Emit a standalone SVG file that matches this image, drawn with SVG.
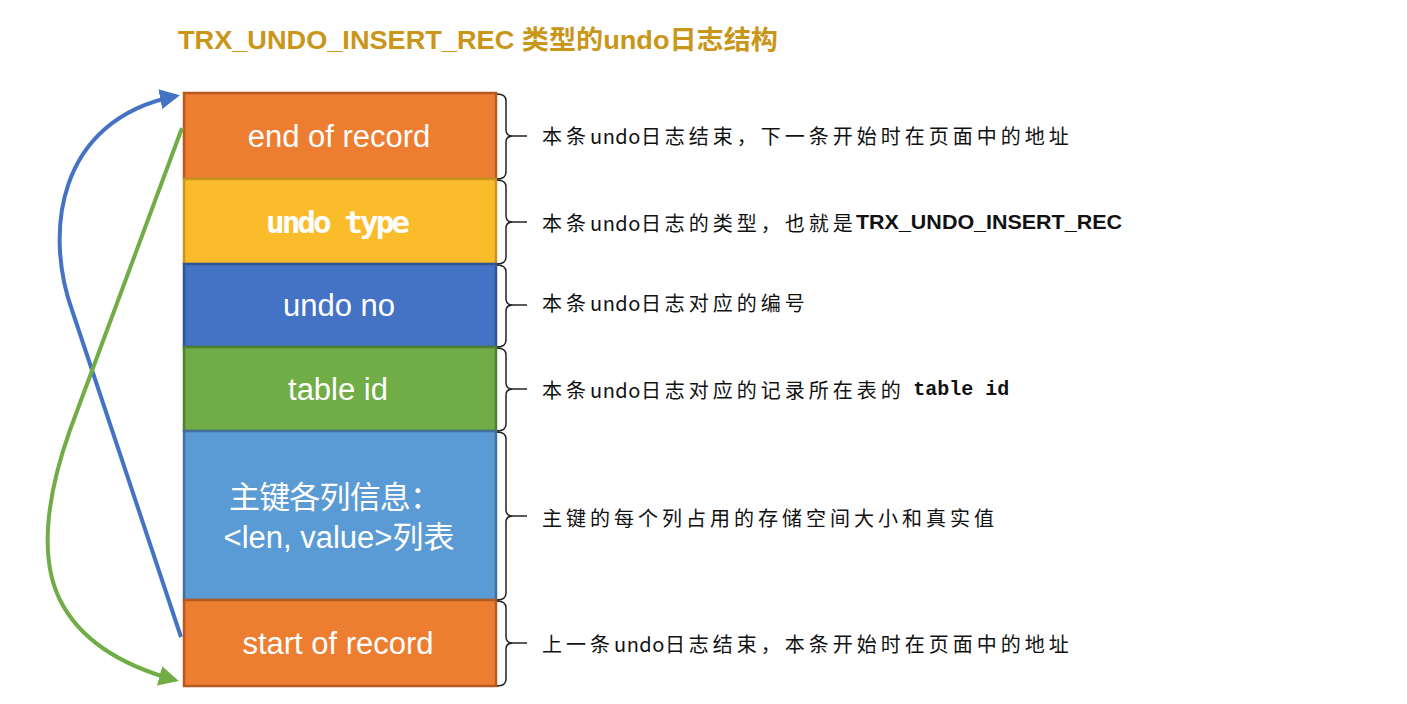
<svg xmlns="http://www.w3.org/2000/svg" width="1407" height="704" viewBox="0 0 1407 704">
<style>
.title{font-family:"Liberation Sans","Noto Sans CJK SC",sans-serif;font-weight:bold;font-size:26px;fill:#C9961A}
.lbl{font-family:"Liberation Sans","Noto Sans CJK SC",sans-serif;font-size:31px;fill:#FFFFFF;text-anchor:middle;dominant-baseline:central}
.desc{font-family:"Noto Sans CJK SC",sans-serif;font-size:20px;letter-spacing:4px;fill:#111111;dominant-baseline:central}
.u{letter-spacing:0.5px}
.b{font-weight:bold;font-family:"Liberation Sans","Noto Sans CJK SC",sans-serif;letter-spacing:0}
.brace{fill:none;stroke:#222;stroke-width:1.5}
.box{stroke-width:2.5}
</style>
<defs>
<marker id="ab" viewBox="0 0 10 10" refX="8" refY="5" markerWidth="5" markerHeight="5" orient="auto" markerUnits="strokeWidth"><path d="M0,0 L10,5 L0,10 z" fill="#4472C4"/></marker>
<marker id="ag" viewBox="0 0 10 10" refX="8" refY="5" markerWidth="5" markerHeight="5" orient="auto" markerUnits="strokeWidth"><path d="M0,0 L10,5 L0,10 z" fill="#70AD47"/></marker>
</defs>
<rect width="1407" height="704" fill="#FFFFFF"/>
<text class="title" x="178" y="49" textLength="600" lengthAdjust="spacingAndGlyphs">TRX_UNDO_INSERT_REC 类型的undo日志结构</text>

<g id="end-of-record"><rect class="box" x="184" y="93" width="312" height="86" fill="#ED7D31" stroke="#B5591F"/><text class="lbl" x="339" y="136">end of record</text></g>
<g id="undo-type"><rect class="box" x="184" y="179" width="312" height="85" fill="#FBBC2C" stroke="#C8961E"/><text class="lbl" x="338" y="222" textLength="144" font-size="26" font-weight="bold" style="font-family:'DejaVu Sans Mono',monospace">undo type</text></g>
<g id="undo-no"><rect class="box" x="184" y="264" width="312" height="83" fill="#4472C4" stroke="#2F5597"/><text class="lbl" x="339" y="305">undo no</text></g>
<g id="table-id"><rect class="box" x="184" y="347" width="312" height="84" fill="#70AD47" stroke="#507E32"/><text class="lbl" x="338" y="389">table id</text></g>
<g id="pk-info"><rect class="box" x="184" y="431" width="312" height="169" fill="#5B9BD5" stroke="#41719C"/><text class="lbl" x="335" y="497" textLength="212">主键各列信息：</text><text class="lbl" x="339" y="537">&lt;len, value&gt;列表</text></g>
<g id="start-of-record"><rect class="box" x="184" y="600" width="312" height="86" fill="#ED7D31" stroke="#B5591F"/><text class="lbl" x="338" y="643">start of record</text></g>

<g id="connectors">
<path d="M181,637 L72,310 C45,235 55,120 176,96" fill="none" stroke="#4472C4" stroke-width="4" marker-end="url(#ab)"/>
<path d="M182,128 L70,430 C45,500 40,560 60,600 C80,640 120,665 175,680" fill="none" stroke="#70AD47" stroke-width="4" marker-end="url(#ag)"/>
</g>

<g id="braces">
<path class="brace" d="M497,94 Q506,94 506,101 L506,130 Q506,136 513,136 Q506,136 506,142 L506,172 Q506,179 497,179"/>
<path class="brace" d="M497,180 Q506,180 506,187 L506,216 Q506,222 513,222 Q506,222 506,228 L506,257 Q506,264 497,264"/>
<path class="brace" d="M497,265 Q506,265 506,272 L506,299 Q506,305 513,305 Q506,305 506,311 L506,340 Q506,347 497,347"/>
<path class="brace" d="M497,348 Q506,348 506,355 L506,383 Q506,389 513,389 Q506,389 506,395 L506,424 Q506,431 497,431"/>
<path class="brace" d="M497,432 Q506,432 506,439 L506,510 Q506,516 513,516 Q506,516 506,522 L506,593 Q506,600 497,600"/>
<path class="brace" d="M497,601 Q506,601 506,608 L506,637 Q506,643 513,643 Q506,643 506,649 L506,679 Q506,686 497,686"/>
<g stroke="#222" stroke-width="1.5"><line x1="513" y1="136" x2="527" y2="136"/><line x1="513" y1="222" x2="527" y2="222"/><line x1="513" y1="305" x2="527" y2="305"/><line x1="513" y1="389" x2="527" y2="389"/><line x1="513" y1="516" x2="527" y2="516"/><line x1="513" y1="643" x2="527" y2="643"/></g>
</g>

<g id="descriptions">
<text class="desc" x="542" y="135">本条<tspan class="u">undo</tspan>日志结束，下一条开始时在页面中的地址</text>
<text class="desc" x="542" y="222">本条<tspan class="u">undo</tspan>日志的类型，也就是</text>
<text class="desc b" x="856" y="222" font-size="23" textLength="266" lengthAdjust="spacingAndGlyphs">TRX_UNDO_INSERT_REC</text>
<text class="desc" x="542" y="302">本条<tspan class="u">undo</tspan>日志对应的编号</text>
<text class="desc" x="542" y="389">本条<tspan class="u">undo</tspan>日志对应的记录所在表的 <tspan class="b" style="font-family:'Liberation Mono',monospace">table id</tspan></text>
<text class="desc" x="542" y="517">主键的每个列占用的存储空间大小和真实值</text>
<text class="desc" x="542" y="643">上一条<tspan class="u">undo</tspan>日志结束，本条开始时在页面中的地址</text>
</g>
</svg>
